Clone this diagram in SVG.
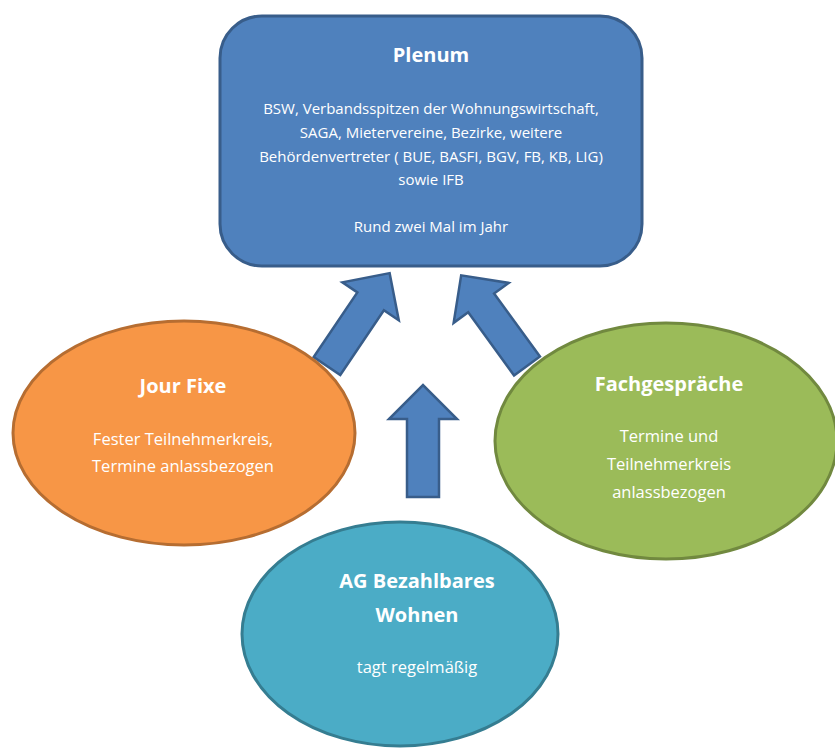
<svg xmlns="http://www.w3.org/2000/svg" width="835" height="751" viewBox="0 0 835 751">
<style>
  .t { font-family: "Open Sans", "Liberation Sans", sans-serif; fill: #ffffff; text-anchor: middle; }
  .h { font-size: 20px; font-weight: bold; }
  .b { font-size: 15px; }
  .e { font-size: 16.5px; }
  .arrow { fill: #4f81bd; stroke: #385d8a; stroke-width: 2.5; stroke-linejoin: miter; }
</style>
<defs>
  <path id="arr" d="M -16,0 L -16,-78 L -34,-78 L 0,-112 L 34,-78 L 16,-78 L 16,0 Z"/>
</defs>
<rect width="835" height="751" fill="#ffffff"/>
<g id="connectors">
  <use href="#arr" class="arrow" transform="translate(327,366) rotate(34)"/>
  <use href="#arr" class="arrow" transform="translate(527,366) rotate(-36)"/>
  <use href="#arr" class="arrow" transform="translate(423,497)"/>
</g>
<g id="plenum">
  <rect x="220" y="16" width="422" height="250" rx="42" ry="42" fill="#4f81bd" stroke="#385d8a" stroke-width="3"/>
  <text class="t h" x="431" y="62">Plenum</text>
  <text class="t b" x="431" y="114">BSW, Verbandsspitzen der Wohnungswirtschaft,</text>
  <text class="t b" x="431" y="138">SAGA, Mietervereine, Bezirke, weitere</text>
  <text class="t b" x="431" y="162">Behördenvertreter ( BUE, BASFI, BGV, FB, KB, LIG)</text>
  <text class="t b" x="431" y="185">sowie IFB</text>
  <text class="t b" x="431" y="232">Rund zwei Mal im Jahr</text>
</g>
<g id="jourfixe">
  <ellipse cx="184" cy="433" rx="171" ry="112" fill="#f79646" stroke="#b66d31" stroke-width="3"/>
  <text class="t h" x="183" y="393">Jour Fixe</text>
  <text class="t e" x="183" y="445">Fester Teilnehmerkreis,</text>
  <text class="t e" x="183" y="472">Termine anlassbezogen</text>
</g>
<g id="fachgespraeche">
  <ellipse cx="666" cy="441" rx="171" ry="118" fill="#9bbb59" stroke="#71893f" stroke-width="3"/>
  <text class="t h" x="669" y="391">Fachgespräche</text>
  <text class="t e" x="669" y="442">Termine und</text>
  <text class="t e" x="669" y="470">Teilnehmerkreis</text>
  <text class="t e" x="669" y="498">anlassbezogen</text>
</g>
<g id="ag">
  <ellipse cx="400" cy="634" rx="158" ry="112" fill="#4bacc6" stroke="#357d91" stroke-width="3"/>
  <text class="t h" x="417" y="588">AG Bezahlbares</text>
  <text class="t h" x="417" y="622">Wohnen</text>
  <text class="t e" x="417" y="673">tagt regelmäßig</text>
</g>
</svg>
